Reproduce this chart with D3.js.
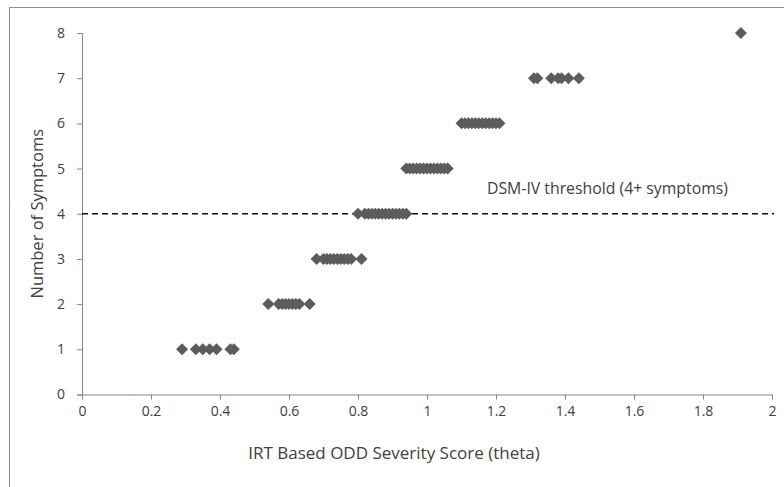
<!DOCTYPE html>
<html>
<head>
<meta charset="utf-8">
<script src="https://cdn.jsdelivr.net/npm/d3@7"></script>
<style>
  body { margin: 0; background: #fff; }
  text { font-family: "Open Sans", "Noto Sans", sans-serif; fill: #404040; }
</style>
</head>
<body>
<div id="chart"></div>
<script>
// data: theta values for each symptom count
var sym1 = [0.29, 0.33, 0.35, 0.37, 0.39, 0.43, 0.44];
var sym2 = [0.54, 0.57, 0.58, 0.59, 0.60, 0.61, 0.62, 0.63, 0.66];
var sym3 = [0.68, 0.70, 0.71, 0.72, 0.73, 0.74, 0.75, 0.76, 0.77, 0.78, 0.81];
var sym4 = [0.80, 0.82, 0.83, 0.84, 0.85, 0.86, 0.87, 0.88, 0.89, 0.90, 0.91, 0.92, 0.93, 0.94];
var sym5 = [0.94, 0.95, 0.96, 0.97, 0.98, 0.99, 1.00, 1.01, 1.02, 1.03, 1.04, 1.05, 1.06];
var sym6 = [1.10, 1.11, 1.12, 1.13, 1.14, 1.15, 1.16, 1.17, 1.18, 1.19, 1.20, 1.21];
var sym7 = [1.31, 1.32, 1.36, 1.38, 1.39, 1.41, 1.44];
var sym8 = [1.91];

var threshold = 4;
var thresholdLabel = "DSM-IV threshold (4+ symptoms)";
var xTicks = [0, 0.2, 0.4, 0.6, 0.8, 1, 1.2, 1.4, 1.6, 1.8, 2];
var yTicks = [0, 1, 2, 3, 4, 5, 6, 7, 8];
var xTitle = "IRT Based ODD Severity Score (theta)";
var yTitle = "Number of Symptoms";

// build points
var groups = [sym1, sym2, sym3, sym4, sym5, sym6, sym7, sym8];
var points = [];
groups.forEach(function(g, i) {
  g.forEach(function(t) { points.push({theta: t, n: i + 1}); });
});

var width = 784, height = 487;

var svg = d3.select("#chart").append("svg")
    .attr("width", width)
    .attr("height", height);

// outer chart frame (cropped on right/bottom)
svg.append("rect")
    .attr("x", 9.5).attr("y", 7.5)
    .attr("width", 900).attr("height", 600)
    .attr("fill", "none")
    .attr("stroke", "#8c8c8c");

var x = d3.scaleLinear().domain([0, 2]).range([82, 772]);
var y = d3.scaleLinear().domain([0, 8]).range([394.5, 33]);

// axes
var xAxis = svg.append("g")
    .attr("transform", "translate(0," + y(0) + ")")
    .call(d3.axisBottom(x).tickValues(xTicks).tickSize(5).tickPadding(7)
      .tickFormat(function(d) { return String(d); }));
var yAxis = svg.append("g")
    .attr("transform", "translate(" + x(0) + ",0)")
    .call(d3.axisLeft(y).tickValues(yTicks).tickSize(5).tickPadding(12)
      .tickFormat(function(d) { return String(d); }));

[xAxis, yAxis].forEach(function(a) {
  a.selectAll("path, line").attr("stroke", "#868686");
  a.selectAll("text").style("font-size", "14px").attr("fill", "#404040");
});

// threshold line
svg.append("line")
    .attr("x1", x(0)).attr("x2", 774)
    .attr("y1", y(threshold)).attr("y2", y(threshold))
    .attr("stroke", "#111")
    .attr("stroke-width", 1.3)
    .attr("stroke-dasharray", "6,4");

svg.append("text")
    .attr("x", 487)
    .attr("y", y(threshold) - 20)
    .style("font-size", "15.8px")
    .text(thresholdLabel);

// points
var diamond = d3.symbol().type(d3.symbolSquare).size(72);
svg.append("g").selectAll("path")
    .data(points)
  .enter().append("path")
    .attr("d", diamond)
    .attr("transform", function(d) {
      return "translate(" + x(d.theta) + "," + y(d.n) + ") rotate(45)";
    })
    .attr("fill", "#5c5c5c");

// axis titles
svg.append("text")
    .attr("x", 394)
    .attr("y", 459)
    .attr("text-anchor", "middle")
    .style("font-size", "17px")
    .text(xTitle);

svg.append("text")
    .attr("transform", "translate(43," + y(4) + ") rotate(-90)")
    .attr("text-anchor", "middle")
    .style("font-size", "16.5px")
    .text(yTitle);
</script>
</body>
</html>
